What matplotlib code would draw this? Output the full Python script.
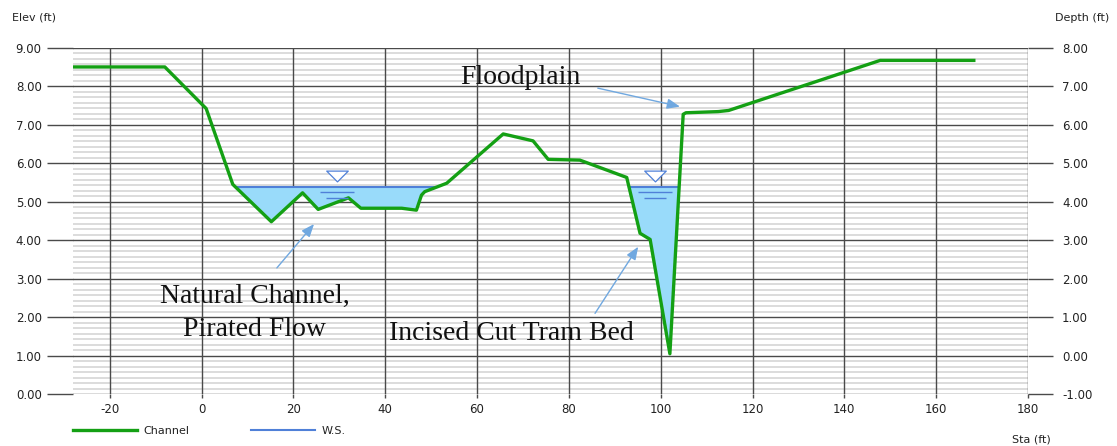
import numpy as np
import matplotlib
matplotlib.use('Agg')
import matplotlib.pyplot as plt
from matplotlib.path import Path
from matplotlib.ticker import MultipleLocator, AutoMinorLocator, FormatStrFormatter
from matplotlib.transforms import offset_copy

# cross-section survey: station (ft) vs ground elevation (ft)
sta = np.array([-28, -8, 1, 6.8, 15.2, 22.0, 25.4, 32.0, 34.7, 43.6, 46.8, 47.9, 48.6,
                53.4, 65.7, 72.2, 75.5, 82.4, 92.6, 95.5, 97.7, 102.0, 104.9, 105.5,
                112.5, 114.8, 147.8, 168.2])
elev = np.array([8.5, 8.5, 7.42, 5.45, 4.48, 5.23, 4.80, 5.10, 4.83, 4.83, 4.78, 5.17, 5.26,
                 5.48, 6.76, 6.58, 6.10, 6.08, 5.63, 4.18, 4.02, 1.05, 7.27, 7.31,
                 7.34, 7.37, 8.67, 8.67])

# water surface elevation and where the W.S. symbol sits on each pool
ws_elev = 5.38
ws_symbol_sta = [29.6, 98.8]

# callouts: (text, text x, text y, arrow tail, arrow head)
notes = [
    ("Floodplain", 69.5, 8.06, (86.3, 7.95), (104.2, 7.47)),
    ("Natural Channel,\nPirated Flow", 11.6, 2.11, (16.4, 3.28), (24.5, 4.42)),
    ("Incised Cut Tram Bed", 67.4, 1.42, (85.7, 2.10), (95.1, 3.83)),
]

GREEN = '#14a014'
WS_BLUE = '#4f80d8'
FILL = '#99dbfa'
ARROW = '#70a8e0'
MAJOR = '#4a4a4a'
MINOR = '#d6d6d6'

plt.rcParams['font.family'] = 'DejaVu Sans'
plt.rcParams['axes.unicode_minus'] = False

W, H = 1117, 446
fig = plt.figure(figsize=(W / 100, H / 100), dpi=100)
ax = fig.add_axes([73 / W, 1 - 394.2 / H, (1028 - 73) / W, (394.2 - 47.7) / H])


def crossings(x, y, level):
    out = []
    for i in range(len(x) - 1):
        a, b = y[i] - level, y[i + 1] - level
        if a * b < 0:
            out.append(x[i] + (x[i + 1] - x[i]) * a / (a - b))
    return out


c = crossings(sta, elev, ws_elev)
ws_x = [c[0], c[1], np.nan, c[2], c[3]]
ws_y = [ws_elev, ws_elev, np.nan, ws_elev, ws_elev]

ax.fill_between(sta, elev, ws_elev, where=elev < ws_elev, interpolate=True,
                color=FILL, linewidth=0, zorder=2)
ws_line, = ax.plot(ws_x, ws_y, color=WS_BLUE, lw=1.5, zorder=3)
ch_line, = ax.plot(sta, elev, color=GREEN, lw=2.4, zorder=4)

# W.S. symbol: hollow triangle above, two dashes below the water line
tri = Path([(-1, 0.5), (1, 0.5), (0, -0.5), (-1, 0.5)],
           [Path.MOVETO, Path.LINETO, Path.LINETO, Path.CLOSEPOLY])
sym_y = [ws_elev] * len(ws_symbol_sta)
ax.plot(ws_symbol_sta, sym_y, ls='none', marker=tri, markersize=15.5,
        markerfacecolor='white', markeredgecolor=WS_BLUE, markeredgewidth=0.9,
        transform=offset_copy(ax.transData, fig, y=11, units='dots'), zorder=5)
ax.plot(ws_symbol_sta, sym_y, ls='none', marker='_', markersize=24,
        markeredgecolor=WS_BLUE, markeredgewidth=1.0,
        transform=offset_copy(ax.transData, fig, y=-5, units='dots'), zorder=5)
ax.plot(ws_symbol_sta, sym_y, ls='none', marker='_', markersize=16,
        markeredgecolor=WS_BLUE, markeredgewidth=1.0,
        transform=offset_copy(ax.transData, fig, y=-10.5, units='dots'), zorder=5)

for text, tx, ty, tail, head in notes:
    ax.text(tx, ty, text, family='Liberation Serif', fontsize=20, ha='center',
            va='center' if '\n' in text else 'baseline', linespacing=1.38,
            color='#111111', zorder=6)
    ax.annotate('', xy=head, xytext=tail,
                arrowprops=dict(arrowstyle='-|>,head_length=0.55,head_width=0.22',
                                color=ARROW, lw=1.0, mutation_scale=14,
                                shrinkA=0, shrinkB=0), zorder=6)

ax.set_xlim(-28, 180)
ax.set_ylim(0, 9)
ax.xaxis.set_major_locator(MultipleLocator(20))
ax.yaxis.set_major_locator(MultipleLocator(1))
ax.yaxis.set_minor_locator(AutoMinorLocator(7))
ax.yaxis.set_major_formatter(FormatStrFormatter('%.2f'))
ax.set_axisbelow(True)
ax.grid(which='major', axis='y', color=MAJOR, lw=1.0)
ax.grid(which='minor', axis='y', color=MINOR, lw=1.2)
# station grid lines drawn over the light minor rules
ax.vlines(ax.get_xticks(), 0, 9, color=MAJOR, lw=1.0, zorder=1)
for s in ax.spines.values():
    s.set_visible(False)
ax.tick_params(axis='y', which='major', length=19, width=1.0, color=MAJOR,
               pad=3.5, labelsize=8.5, labelcolor='#222222')
ax.tick_params(axis='y', which='minor', length=0)
ax.tick_params(axis='x', length=3, width=1.0, color=MAJOR, pad=3.5,
               labelsize=8.5, labelcolor='#222222')

ax2 = ax.twinx()
ax2.set_ylim(-1, 8)
ax2.yaxis.set_major_locator(MultipleLocator(1))
ax2.yaxis.set_major_formatter(FormatStrFormatter('%.2f'))
for s in ax2.spines.values():
    s.set_visible(False)
ax2.tick_params(axis='y', length=18, width=1.0, color=MAJOR, pad=6.5,
                labelsize=8.5, labelcolor='#222222')

fig.text(12 / W, 1 - 18 / H, 'Elev (ft)', fontsize=8, color='#222222', va='center')
fig.text(1055 / W, 1 - 18 / H, 'Depth (ft)', fontsize=8, color='#222222', va='center')
fig.text(1012 / W, 1 - 439 / H, 'Sta (ft)', fontsize=8, color='#222222', va='center')

fig.legend([ch_line, ws_line], ['Channel', 'W.S.'], loc='center left',
           bbox_to_anchor=(73 / W, 1 - 431 / H), ncol=2, frameon=False,
           fontsize=8, borderpad=0, borderaxespad=0, handlelength=5.8,
           handletextpad=0.55, columnspacing=5.5, labelcolor='#222222')

fig.savefig('out.png', dpi=100)
